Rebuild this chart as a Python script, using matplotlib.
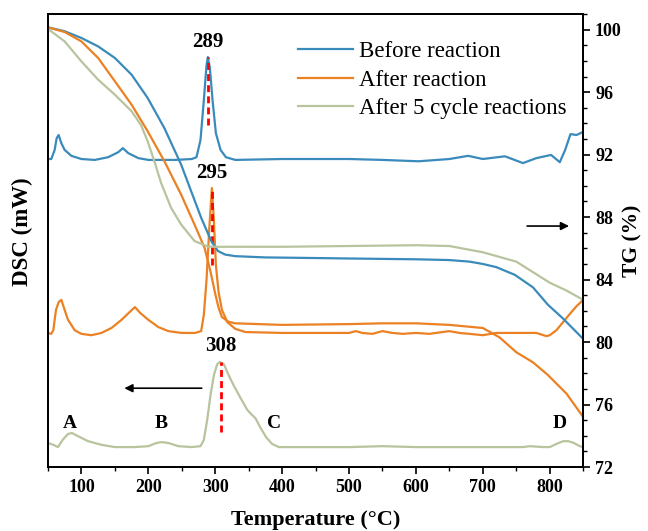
import matplotlib
matplotlib.use("Agg")
import matplotlib.pyplot as plt
from matplotlib.ticker import MultipleLocator

plt.rcParams["font.family"] = ["Liberation Serif", "DejaVu Serif"]

# ---- TG curves (right axis, %) ----
tg_before_t = [50, 75, 100, 125, 150, 175, 199, 224, 249, 264, 279, 294, 304, 315, 330,
               375, 450, 500, 600, 650, 680, 700, 720, 748, 775, 797, 820, 850]
tg_before = [100.15, 99.9, 99.47, 98.93, 98.19, 97.12, 95.63, 93.7, 91.37, 89.66, 87.96,
             86.47, 85.83, 85.6, 85.5, 85.42, 85.38, 85.35, 85.3, 85.25, 85.15, 85.0, 84.8,
             84.3, 83.5, 82.4, 81.5, 80.2]

tg_after_t = [50, 75, 100, 125, 150, 175, 199, 224, 249, 269, 284, 289, 293, 297, 300,
              305, 310, 320, 330, 400, 500, 550, 600, 650, 700, 725, 750, 775, 797, 825, 850]
tg_after = [100.15, 99.85, 99.25, 98.19, 96.7, 95.2, 93.5, 91.58, 89.45, 87.53, 86.04,
            85.2, 84.5, 83.7, 83.1, 82.2, 81.6, 81.3, 81.2, 81.1, 81.15, 81.2, 81.2, 81.1,
            80.9, 80.3, 79.35, 78.7, 77.9, 76.7, 75.2]

tg_cycle_t = [50, 75, 100, 125, 150, 175, 189, 199, 209, 219, 234, 249, 269, 289, 301,
              400, 500, 600, 650, 700, 750, 800, 825, 850]
tg_cycle = [100.05, 99.25, 97.97, 96.8, 95.84, 94.78, 93.9, 92.86, 91.58, 90.2, 88.6,
            87.53, 86.47, 86.12, 86.1, 86.1, 86.15, 86.2, 86.15, 85.75, 85.15, 83.8, 83.3,
            82.7]

# ---- DSC curves (left axis, arbitrary offset units) ----
dsc_before_t = [50, 55, 60, 63, 66, 70, 75, 85, 100, 120, 140, 155, 162, 170, 185, 200, 240,
                265, 272, 278, 283, 287, 289, 292, 296, 301, 308, 316, 330, 400, 450, 500, 550,
                604, 650, 678, 700, 733, 760, 780, 802, 815, 823, 831, 840, 850]
dsc_before = [0.680, 0.680, 0.700, 0.726, 0.733, 0.715, 0.700, 0.687, 0.680, 0.678, 0.684,
              0.695, 0.704, 0.693, 0.682, 0.678, 0.678, 0.680, 0.684, 0.722, 0.810, 0.887,
              0.905, 0.881, 0.810, 0.737, 0.700, 0.684, 0.678, 0.680, 0.680, 0.680, 0.678,
              0.675, 0.680, 0.687, 0.680, 0.686, 0.671, 0.682, 0.689, 0.673, 0.700, 0.735,
              0.733, 0.740]

dsc_after_t = [50, 55, 58, 62, 66, 70, 74, 80, 90, 100, 115, 130, 145, 160, 172, 180, 188,
               200, 215, 230, 250, 270, 279, 283, 287, 291, 295, 298, 301, 305, 310, 318, 330,
               345, 400, 450, 500, 510, 520, 535, 550, 565, 580, 600, 620, 640, 650, 665, 680,
               700, 720, 740, 760, 780, 795, 800, 810, 820, 830, 840, 850]
dsc_after = [0.296, 0.294, 0.302, 0.347, 0.364, 0.369, 0.351, 0.325, 0.302, 0.294, 0.291,
             0.296, 0.307, 0.325, 0.342, 0.353, 0.340, 0.325, 0.309, 0.300, 0.296, 0.296,
             0.300, 0.336, 0.413, 0.523, 0.616, 0.545, 0.446, 0.386, 0.347, 0.320, 0.305,
             0.298, 0.296, 0.296, 0.296, 0.300, 0.296, 0.294, 0.300, 0.296, 0.294, 0.296,
             0.294, 0.298, 0.300, 0.296, 0.294, 0.291, 0.296, 0.296, 0.296, 0.296, 0.289,
             0.291, 0.302, 0.320, 0.338, 0.355, 0.369]

dsc_cycle_t = [50, 58, 65, 72, 80, 86, 95, 110, 130, 150, 180, 200, 212, 220, 230, 245, 265,
               278, 283, 288, 293, 298, 303, 307, 313, 320, 328, 338, 348, 355, 360, 368, 376,
               385, 395, 450, 500, 550, 600, 650, 700, 740, 760, 770, 790, 800, 810, 820, 828,
               836, 845, 850]
dsc_cycle = [0.053, 0.049, 0.044, 0.060, 0.073, 0.075, 0.068, 0.057, 0.049, 0.044, 0.044,
             0.046, 0.053, 0.055, 0.053, 0.046, 0.044, 0.046, 0.060, 0.104, 0.159, 0.203,
             0.227, 0.232, 0.227, 0.203, 0.179, 0.152, 0.126, 0.115, 0.108, 0.086, 0.066,
             0.051, 0.044, 0.044, 0.044, 0.046, 0.044, 0.044, 0.044, 0.044, 0.044, 0.046,
             0.044, 0.044, 0.051, 0.057, 0.057, 0.053, 0.046, 0.044]

labels = ["Before reaction", "After reaction", "After 5 cycle reactions"]
colors = ["#3a8bbb", "#ec8123", "#b7c49e"]

peak_temps = [289, 295, 308]
peak_tops = [0.905, 0.616, 0.232]
peak_bottoms = [0.755, 0.445, 0.077]
letters = ["A", "B", "C", "D"]
letter_temps = [83, 219, 388, 815]

fig = plt.figure(figsize=(6.48, 5.31), dpi=100)
ax = fig.add_axes([0.074, 0.1205, 0.826, 0.853])
ax2 = ax.twinx()

lw = 1.6
ax.plot(dsc_before_t, dsc_before, color=colors[0], lw=lw)
ax.plot(dsc_after_t, dsc_after, color=colors[1], lw=lw)
ax.plot(dsc_cycle_t, dsc_cycle, color=colors[2], lw=lw)

ax2.plot(tg_before_t, tg_before, color=colors[0], lw=lw, label=labels[0])
ax2.plot(tg_after_t, tg_after, color=colors[1], lw=lw, label=labels[1])
ax2.plot(tg_cycle_t, tg_cycle, color=colors[2], lw=lw, label=labels[2])

ax.set_xlim(50, 850)
ax.set_ylim(0, 1)
ax2.set_ylim(72, 101)

# peak markers
for t, top, bot in zip(peak_temps, peak_tops, peak_bottoms):
    ax.plot([t, t], [bot, top], color="red", ls=(0, (2.5, 1.5)), lw=2)
    ax.text(t, top + 0.012, str(t), ha="center", va="bottom",
            fontsize=15, fontweight="bold")

for lab, t in zip(letters, letter_temps):
    ax.text(t, 0.095, lab, ha="center", va="center", fontsize=14, fontweight="bold")

# arrows pointing to the axes
ax.annotate("", xy=(160, 0.174), xytext=(284, 0.174),
            arrowprops=dict(arrowstyle="-|>", color="black", lw=1.2, mutation_scale=12))
ax.annotate("", xy=(833, 0.532), xytext=(762, 0.532),
            arrowprops=dict(arrowstyle="-|>", color="black", lw=1.2, mutation_scale=12))

ax.xaxis.set_major_locator(MultipleLocator(100))
ax.xaxis.set_minor_locator(MultipleLocator(50))
ax.set_yticks([])
ax2.yaxis.set_minor_locator(MultipleLocator(1))
ax2.set_yticks(range(72, 101, 4))

ax.tick_params(axis="x", which="major", length=5, width=1.2, labelsize=13)
ax.tick_params(axis="x", which="minor", length=3, width=1.0)
ax2.tick_params(axis="y", which="major", length=5, width=1.2, labelsize=13)
ax2.tick_params(axis="y", which="minor", length=3, width=1.0)
for lab in ax.get_xticklabels() + ax2.get_yticklabels():
    lab.set_fontweight("bold")

for a in (ax, ax2):
    for sp in a.spines.values():
        sp.set_linewidth(1.3)

ax.set_xlabel("Temperature (°C)", fontsize=16, fontweight="bold", labelpad=10)
ax.set_ylabel("DSC (mW)", fontsize=16.5, fontweight="bold")
ax.yaxis.set_label_coords(-0.028, 0.52)
ax2.set_ylabel("TG (%)", fontsize=15.5, fontweight="bold")
ax2.yaxis.set_label_coords(1.073, 0.50)

ax2.legend(loc="upper left", bbox_to_anchor=(0.467, 0.94), frameon=False, fontsize=16.5,
           handlelength=2.4, handletextpad=0.25, labelspacing=0.33, borderpad=0,
           borderaxespad=0)

fig.savefig("out.png", dpi=100)
